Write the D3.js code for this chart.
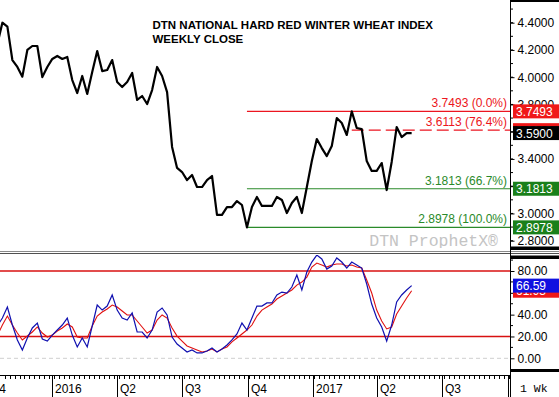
<!DOCTYPE html>
<html>
<head>
<meta charset="utf-8">
<script src="https://cdn.jsdelivr.net/npm/d3@7"></script>
<style>
  body { margin: 0; background: #fff; }
  svg { display: block; font-family: "Liberation Sans", Arial, sans-serif; }
</style>
</head>
<body>
<div id="chart"></div>
<script>
"use strict";

// weekly closes, Fridays from 2015-10-16 to 2017-05-19
const firstWeek = new Date(2015, 9, 16);
const lastWeek = new Date(2017, 4, 19);

const closes = [4.244, 4.400, 4.371, 4.126, 4.075, 4.004, 4.200, 4.229, 4.229, 4.001, 4.075, 4.134, 4.156, 4.134, 4.149, 3.979,
  3.884, 4.009, 3.877, 4.038, 4.192, 4.045, 4.053, 4.126, 3.965, 3.928, 3.965, 4.031, 3.833, 3.862, 3.803, 3.906,
  4.075, 4.009, 3.891, 3.488, 3.334, 3.304, 3.245, 3.282, 3.194, 3.194, 3.245, 3.275, 2.989, 2.989, 3.047, 3.047,
  3.091, 3.062, 2.8978, 3.047, 3.121, 3.055, 3.055, 3.055, 3.121, 3.099, 3.003, 3.077, 3.121, 3.003, 3.194, 3.385,
  3.546, 3.480, 3.421, 3.495, 3.700, 3.664, 3.576, 3.7493, 3.627, 3.619, 3.385, 3.312, 3.312, 3.370, 3.172, 3.378,
  3.634, 3.561, 3.590, 3.590];

// stochastics %K (blue) and %D (red)
const stochK = [29.8, 36.9, 47.0, 30.5, 16.8, 7.6, 18.6, 27.8, 32.3, 17.7, 15.8, 21.3, 25.9, 30.5, 36.9, 21.3,
  10.4, 18.6, 10.4, 29.6, 48.8, 44.2, 47.9, 58.0, 44.2, 36.9, 35.1, 41.5, 24.1, 24.1, 18.6, 25.9,
  42.4, 46.1, 39.7, 19.5, 13.1, 9.4, 5.8, 7.6, 4.9, 4.9, 6.7, 9.4, 5.8, 8.5, 12.2, 16.8,
  22.3, 32.3, 25.9, 36.9, 47.9, 47.9, 50.7, 50.7, 58.0, 60.7, 59.8, 65.3, 76.3, 62.6, 79.1, 88.2,
  94.6, 91.0, 81.8, 84.6, 91.9, 88.2, 82.7, 88.2, 85.5, 82.7, 68.1, 49.7, 36.9, 28.7, 15.8, 30.5,
  51.6, 58.0, 62.6, 66.59];
const stochD = [21.0, 30.5, 38.7, 30.5, 23.2, 16.8, 20.4, 24.1, 28.7, 23.2, 19.5, 21.3, 25.0, 27.8, 31.4, 28.7,
  19.5, 18.6, 18.6, 29.6, 38.7, 42.4, 45.2, 48.8, 47.0, 43.3, 39.7, 39.7, 34.2, 28.7, 23.2, 25.9,
  35.1, 39.7, 36.9, 27.8, 20.4, 15.8, 11.3, 9.4, 7.6, 5.8, 6.7, 8.5, 5.8, 8.5, 10.4, 15.0,
  18.6, 22.3, 25.9, 30.5, 38.7, 44.2, 47.0, 49.7, 54.3, 57.1, 59.8, 62.6, 67.1, 69.9, 74.4, 83.6,
  87.3, 85.5, 83.6, 85.5, 86.4, 86.4, 84.6, 85.5, 83.6, 82.7, 71.7, 59.8, 44.2, 34.2, 26.9, 28.7,
  40.6, 47.9, 55.2, 61.93];

// fibonacci levels, drawn from the swing low (Sep 30 2016) or swing high (Feb 24 2017)
const fibValues = [3.7493, 3.6113, 3.1813, 2.8978];
const fibLabels = ["3.7493 (0.0%)", "3.6113 (76.4%)", "3.1813 (66.7%)", "2.8978 (100.0%)"];
const fibStart = [new Date(2016, 8, 30), new Date(2017, 1, 24), new Date(2016, 8, 30), new Date(2016, 8, 30)];
const fibColors = ["#ec1520", "#ec1520", "#2a8a2a", "#2a8a2a"];

const priceTicks = [2.8, 3.0, 3.2, 3.4, 3.6, 3.8, 4.0, 4.2, 4.4];
const stochTicks = [0, 20, 40, 60, 80, 100];
const stochLevels = [20, 80];

const weeks = d3.timeFriday.range(firstWeek, d3.timeDay.offset(lastWeek, 1));

const w = 559, h = 397;
const axisX = 510;

const svg = d3.select("#chart").append("svg").attr("width", w).attr("height", h);
svg.append("rect").attr("width", w).attr("height", h).attr("fill", "#fff");

const defs = svg.append("defs");
defs.append("clipPath").attr("id", "clipTop").append("rect").attr("x", 0).attr("y", 2).attr("width", axisX).attr("height", 246);
defs.append("clipPath").attr("id", "clipLow").append("rect").attr("x", 0).attr("y", 255).attr("width", axisX).attr("height", 114);

const x = d3.scaleTime().domain([new Date(2016, 0, 1), new Date(2017, 6, 1)]).range([52.3, 442.3]);
const yPrice = d3.scaleLinear().domain([2.8, 4.4]).range([240.7, 22.7]);
const yStoch = d3.scaleLinear().domain([0, 80]).range([358.3, 271]);

const topG = svg.append("g").attr("clip-path", "url(#clipTop)");
const lowG = svg.append("g").attr("clip-path", "url(#clipLow)");

// fib lines
fibValues.forEach(function(v, i) {
  topG.append("line")
    .attr("x1", x(fibStart[i])).attr("x2", axisX)
    .attr("y1", yPrice(v)).attr("y2", yPrice(v))
    .attr("stroke", fibColors[i]).attr("stroke-width", 1.2)
    .attr("stroke-dasharray", i == 1 ? "12,5" : null);
  topG.append("text")
    .attr("x", 507).attr("y", yPrice(v) - 4)
    .attr("text-anchor", "end").attr("font-size", "12px")
    .attr("fill", fibColors[i])
    .text(fibLabels[i]);
});

// watermark
topG.append("text").attr("x", 498).attr("y", 246)
  .attr("text-anchor", "end")
  .attr("font-family", "'Liberation Mono', 'Courier New', monospace")
  .attr("font-size", "16.5px").attr("fill", "#c4c4c4")
  .text("DTN ProphetX\u00ae");

// price line
const priceLine = d3.line().x(function(d, i) { return x(weeks[i]); }).y(function(d) { return yPrice(d); });
topG.append("path").datum(closes).attr("d", priceLine)
  .attr("fill", "none").attr("stroke", "#000").attr("stroke-width", 2.2).attr("stroke-linejoin", "round");

// title
svg.append("text").attr("x", 152.5).attr("y", 29.3).attr("font-weight", "bold").attr("font-size", "11.5px")
  .text("DTN NATIONAL HARD RED WINTER WHEAT INDEX");
svg.append("text").attr("x", 152.5).attr("y", 42.7).attr("font-weight", "bold").attr("font-size", "11.5px")
  .text("WEEKLY CLOSE");

// lower panel
lowG.append("line").attr("x1", 0).attr("x2", axisX).attr("y1", yStoch(0)).attr("y2", yStoch(0))
  .attr("stroke", "#cfcfcf").attr("stroke-dasharray", "4,3");
stochLevels.forEach(function(v) {
  lowG.append("line").attr("x1", 0).attr("x2", axisX).attr("y1", yStoch(v)).attr("y2", yStoch(v))
    .attr("stroke", "#d81010").attr("stroke-width", 1.3);
});
const kLine = d3.line().x(function(d, i) { return x(weeks[i]); }).y(function(d) { return yStoch(d); });
lowG.append("path").datum(stochD).attr("d", kLine).attr("fill", "none").attr("stroke", "#e01010").attr("stroke-width", 1.1);
lowG.append("path").datum(stochK).attr("d", kLine).attr("fill", "none").attr("stroke", "#1010b0").attr("stroke-width", 1.2);

// panel separators
svg.append("line").attr("x1", 0).attr("x2", w).attr("y1", 251.5).attr("y2", 251.5).attr("stroke", "#8a8a8a");
svg.append("line").attr("x1", 0).attr("x2", w).attr("y1", 253.5).attr("y2", 253.5).attr("stroke", "#505050");
[[0, 2], [246.5, 3.5], [255.5, 3.5], [369, 3]].forEach(function(b) {
  svg.append("rect").attr("x", axisX).attr("y", b[0]).attr("width", w - axisX).attr("height", b[1]).attr("fill", "#000");
});

// right axes
svg.append("line").attr("x1", axisX + 0.5).attr("x2", axisX + 0.5).attr("y1", 0).attr("y2", h).attr("stroke", "#000");

// labels that sit fully under a value box are left out (3.6, 3.2, 60)
const hiddenLabels = [3.6, 3.2, 60];
function tickLabel(fmt) {
  return function(d) { return hiddenLabels.indexOf(d) >= 0 ? "" : fmt(d); };
}

const priceAxis = d3.axisRight(yPrice).tickValues(priceTicks).tickSize(4).tickPadding(3)
  .tickFormat(tickLabel(d3.format(".4f")));
const gp = svg.append("g").attr("transform", "translate(" + (axisX + 0.5) + ",0)").call(priceAxis);
const minorPrice = d3.range(2.7, 4.55, 0.1).filter(function(v) { return yPrice(v) > 3 && yPrice(v) < 246; });
gp.selectAll(".minor").data(minorPrice).enter().append("line").attr("class", "minor")
  .attr("x1", 0).attr("x2", 2.5).attr("y1", function(d) { return yPrice(d); }).attr("y2", function(d) { return yPrice(d); })
  .attr("stroke", "#000");

const stochAxis = d3.axisRight(yStoch).tickValues(stochTicks).tickSize(4).tickPadding(3)
  .tickFormat(tickLabel(d3.format(".2f")));
const gs = svg.append("g").attr("transform", "translate(" + (axisX + 0.5) + ",0)").call(stochAxis);
gs.selectAll(".tick").filter(function(d) { return yStoch(d) < 262; }).remove();
gs.selectAll(".minor").data([10, 30, 50, 70, 90]).enter().append("line").attr("class", "minor")
  .attr("x1", 0).attr("x2", 2.5).attr("y1", function(d) { return yStoch(d); }).attr("y2", function(d) { return yStoch(d); })
  .attr("stroke", "#000");

[gp, gs].forEach(function(g) {
  g.select(".domain").remove();
  g.selectAll("text").attr("font-size", "12px").attr("font-family", "'Liberation Sans', Arial, sans-serif").attr("fill", "#000");
});

// value boxes
function valueBox(yv, label, fill) {
  svg.append("rect").attr("x", 513).attr("y", yv - 7).attr("width", 46).attr("height", 14).attr("fill", fill);
  svg.append("text").attr("x", 516).attr("y", yv + 4.5).attr("font-size", "12px").attr("fill", "#fff").text(label);
}
valueBox(yPrice(3.7493), "3.7493", "#f01818");
valueBox(yPrice(3.6113), "3.6113", "#f01818");
valueBox(yPrice(closes[closes.length - 1]), "3.5900", "#000");
valueBox(yPrice(3.1813), "3.1813", "#1a801a");
valueBox(yPrice(2.8978), "2.8978", "#1a801a");
valueBox(yStoch(stochD[stochD.length - 1]), "61.93", "#f01818");
valueBox(yStoch(stochK[stochK.length - 1]), "66.59", "#1010e0");

// x axis
const xAxisY = 375.5;
svg.append("line").attr("x1", 0).attr("x2", axisX).attr("y1", xAxisY).attr("y2", xAxisY).attr("stroke", "#000");
const minorDays = d3.timeMonday.range(x.invert(0), x.invert(axisX));
svg.append("g").selectAll("line").data(minorDays).enter().append("line")
  .attr("x1", function(d) { return Math.round(x(d)) + 0.5; }).attr("x2", function(d) { return Math.round(x(d)) + 0.5; })
  .attr("y1", xAxisY).attr("y2", xAxisY + 3.5).attr("stroke", "#000");
const quarters = d3.timeMonth.every(3).range(d3.timeMonth.offset(x.invert(0), -3), x.invert(axisX));
const qg = svg.append("g").selectAll("g").data(quarters).enter().append("g")
  .attr("transform", function(d) { return "translate(" + (Math.round(x(d)) + 0.5) + ",0)"; });
qg.append("line").attr("y1", xAxisY).attr("y2", h).attr("stroke", "#000");
qg.append("text").attr("x", 2.5).attr("y", 393).attr("font-size", "12px")
  .text(function(d) { return d.getMonth() == 0 ? d.getFullYear() : "Q" + (d.getMonth() / 3 + 1); });
// cover anything spilling into the right column
svg.append("rect").attr("x", axisX + 1).attr("y", xAxisY - 3).attr("width", w - axisX - 1).attr("height", h - xAxisY + 3).attr("fill", "#fff");
svg.append("text").attr("x", 520).attr("y", 392)
  .attr("font-family", "'Liberation Mono', 'Courier New', monospace").attr("font-size", "11.5px")
  .text("1 Wk");
</script>
</body>
</html>
